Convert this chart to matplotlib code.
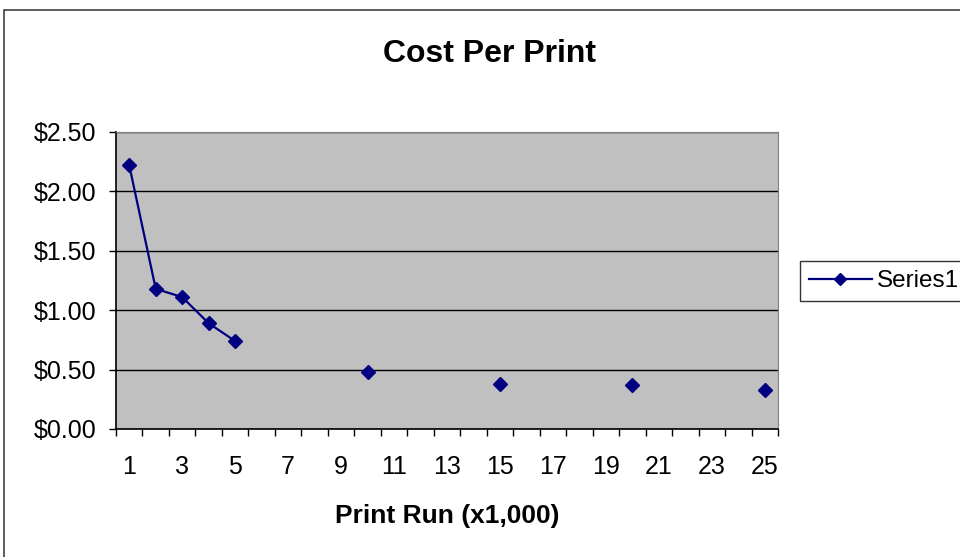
import numpy as np
import matplotlib.pyplot as plt
from matplotlib.patches import Rectangle

plt.rcParams['font.family'] = ['Liberation Sans', 'DejaVu Sans']

print_run = [1, 2, 3, 4, 5, 10, 15, 20, 25]
cost = [2.22, 1.18, 1.11, 0.89, 0.74, 0.48, 0.38, 0.37, 0.33]
categories = np.arange(1, 26)

# blanks between entries so the line only joins neighbouring categories
series = np.full(len(categories), np.nan)
for r, c in zip(print_run, cost):
    series[r - 1] = c

fig = plt.figure(figsize=(9.6, 5.57), dpi=100)
fig.patches.append(Rectangle((4 / 960, -0.1), 1.2, 1 - 10 / 557 + 0.1,
                             transform=fig.transFigure, fill=False,
                             edgecolor='#404040', lw=1.2))

ax = fig.add_axes([116 / 960, 1 - 429 / 557, 662 / 960, 297 / 557])
ax.set_facecolor('#C0C0C0')
ax.plot(categories, series, color='#000080', lw=1.6, marker='D', ms=7,
        label='Series1', zorder=3)

ax.set_xlim(0.5, 25.5)
ax.set_ylim(0, 2.5)
yt = np.arange(0, 2.51, 0.5)
ax.set_yticks(yt)
ax.set_yticklabels(['${:.2f}'.format(v) for v in yt], fontsize=18)
ax.yaxis.grid(True, color='black', lw=1)
ax.set_axisbelow(True)

ax.set_xticks(np.arange(1, 26, 2))
ax.set_xticklabels([str(v) for v in range(1, 26, 2)], fontsize=18)
ax.set_xticks(np.arange(0.5, 26, 1), minor=True)
ax.tick_params(axis='x', which='major', length=0, pad=19)
ax.tick_params(axis='x', which='minor', length=5, width=1, direction='out')
ax.tick_params(axis='y', length=5, width=1, direction='out', pad=9)

for s in ['top', 'right']:
    ax.spines[s].set_color('#808080')
for s in ['left', 'bottom']:
    ax.spines[s].set_color('black')
    ax.spines[s].set_linewidth(1.2)

ax.set_xlabel('Print Run (x1,000)', fontsize=19, fontweight='bold', labelpad=18)
fig.text(490 / 960, 1 - 54 / 557, 'Cost Per Print', ha='center', va='center',
         fontsize=23, fontweight='bold')

leg = ax.legend(loc='center left', bbox_to_anchor=(800 / 960, 1 - 281 / 557),
                bbox_transform=fig.transFigure, fontsize=17.5, fancybox=False,
                frameon=True, edgecolor='black', handlelength=2.6,
                borderpad=0.35, handletextpad=0.2, borderaxespad=0)
leg.get_frame().set_linewidth(1)
leg.legend_handles[0].set_markersize(6)

fig.savefig('out.png', dpi=100)
